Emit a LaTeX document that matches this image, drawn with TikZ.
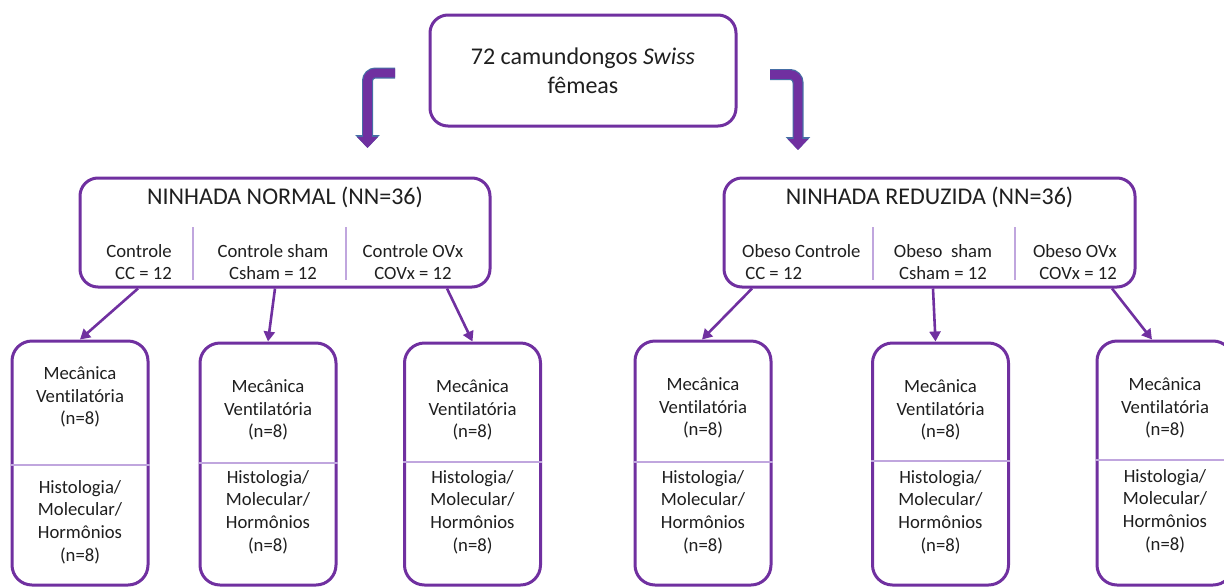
\documentclass[tikz,border=0pt]{standalone}
\usepackage{fontspec}
\setmainfont{Carlito}[Ligatures=NoCommon]
\usetikzlibrary{arrows.meta}
\definecolor{roxo}{RGB}{112,48,160}
\definecolor{roxoclaro}{RGB}{192,166,222}
\definecolor{contorno}{RGB}{70,110,165}
\newcommand{\mecanica}{Mecânica\\Ventilatória\\(n=8)}
\newcommand{\histologia}{Histologia/\\Molecular/\\Hormônios\\(n=8)}

\begin{document}
\begin{tikzpicture}[
      x=1pt,y=-1pt,
      every node/.style={inner sep=0pt,align=center,text=black!88,
        font=\fontsize{18.7}{22.6}\selectfont},
      caixa/.style={draw=roxo,line width=3pt,rounded corners=18pt,fill=white},
      grupo/.style={caixa,minimum width=136pt,rounded corners=20pt},
      titulo/.style={font=\fontsize{24}{28.6}\selectfont},
      divisor/.style={draw=roxoclaro,line width=1.2pt},
      seta/.style={draw=roxo,line width=2.6pt,-{Triangle[length=10pt,width=11pt]}},
      curvafundo/.style={draw=contorno,line width=11pt,rounded corners=8pt,
        -{Triangle[length=13pt,width=24pt]}},
      curva/.style={draw=roxo,line width=8.6pt,rounded corners=8pt,
        -{Triangle[length=11pt,width=20pt]}}
    ]
      \useasboundingbox (0,0) rectangle (1224,587);
      % topo
      \node[caixa,titulo,minimum width=306pt,minimum height=111pt] (topo) at (583,70.5)
        {72 camundongos \textit{Swiss}\\fêmeas};
      % ninhadas
      \node[caixa,minimum width=410pt,minimum height=109pt] (nn) at (285,232.5) {};
      \node[caixa,minimum width=411pt,minimum height=109pt] (nr) at (929.5,232.5) {};
      \node[titulo] (nnt) at (285,197) {NINHADA NORMAL (NN=36)};
      \node[titulo] (nrt) at (929.5,197) {NINHADA REDUZIDA (NN=36)};
      \node[align=right,anchor=east] (cc) at (172,262) {Controle\\CC = 12};
      \node (cs) at (273,262) {Controle sham\\Csham = 12};
      \node (co) at (413,262) {Controle OVx\\COVx = 12};
      \node[align=left,anchor=west] (oc) at (742,262) {Obeso Controle\\\,CC = 12};
      \node (os) at (943,262) {Obeso\ \ sham\\Csham = 12};
      \node[align=right,anchor=east] (oo) at (1117,262) {Obeso OVx\\COVx = 12};
      \draw[divisor] (193,227) -- (193,280);
      \draw[divisor] (346,227) -- (346,280);
      \draw[divisor] (873,227) -- (873,280);
      \draw[divisor] (1015,227) -- (1015,280);
      % grupos
      \foreach \i/\x/\t/\d/\u/\l in {1/80/341/465/397/522, 2/268/343/463/410/512,
          3/472.5/343/462/410/512, 4/703/341/462/408/512,
          5/940.5/343/461/410/512, 6/1165/341/460/408/511} {
        \pgfmathsetmacro{\alt}{585-\t}
        \pgfmathsetmacro{\meio}{(585+\t)/2}
        \node[grupo,minimum height=\alt pt] (b\i) at (\x,\meio) {};
        \coordinate (d\i) at (\x,\d);
        \draw[divisor] (b\i.west |- d\i) -- (b\i.east |- d\i);
        \node (m\i) at (\x,\u) {\mecanica};
        \node (h\i) at (\x,\l) {\histologia};
      }
      % setas
      \draw[seta] ([xshift=-147pt]nn.south) -- (b1.north);
      \draw[seta] ([xshift=-10pt]nn.south) -- (b2.north);
      \draw[seta] ([xshift=162pt]nn.south) -- (b3.north);
      \draw[seta] ([xshift=-177.5pt]nr.south) -- ([xshift=-1pt]b4.north);
      \draw[seta] ([xshift=3.5pt]nr.south) -- ([xshift=-5pt]b5.north);
      \draw[seta] ([xshift=182.5pt]nr.south) -- ([xshift=-13pt]b6.north);
      % setas curvas
      \coordinate (ea) at ([shift={(-33.5,2.5)}]topo.west);
      \coordinate (eb) at ([shift={(82.5,-28.5)}]nn.north);
      \coordinate (da) at ([shift={(32.5,4)}]topo.east);
      \coordinate (db) at ([shift={(-131.5,-26.5)}]nr.north);
      \draw[curvafundo] (ea) -| (eb);
      \draw[curva] (ea) -| (eb);
      \draw[curvafundo] (da) -| (db);
      \draw[curva] (da) -| (db);
    \end{tikzpicture}
\end{document}
